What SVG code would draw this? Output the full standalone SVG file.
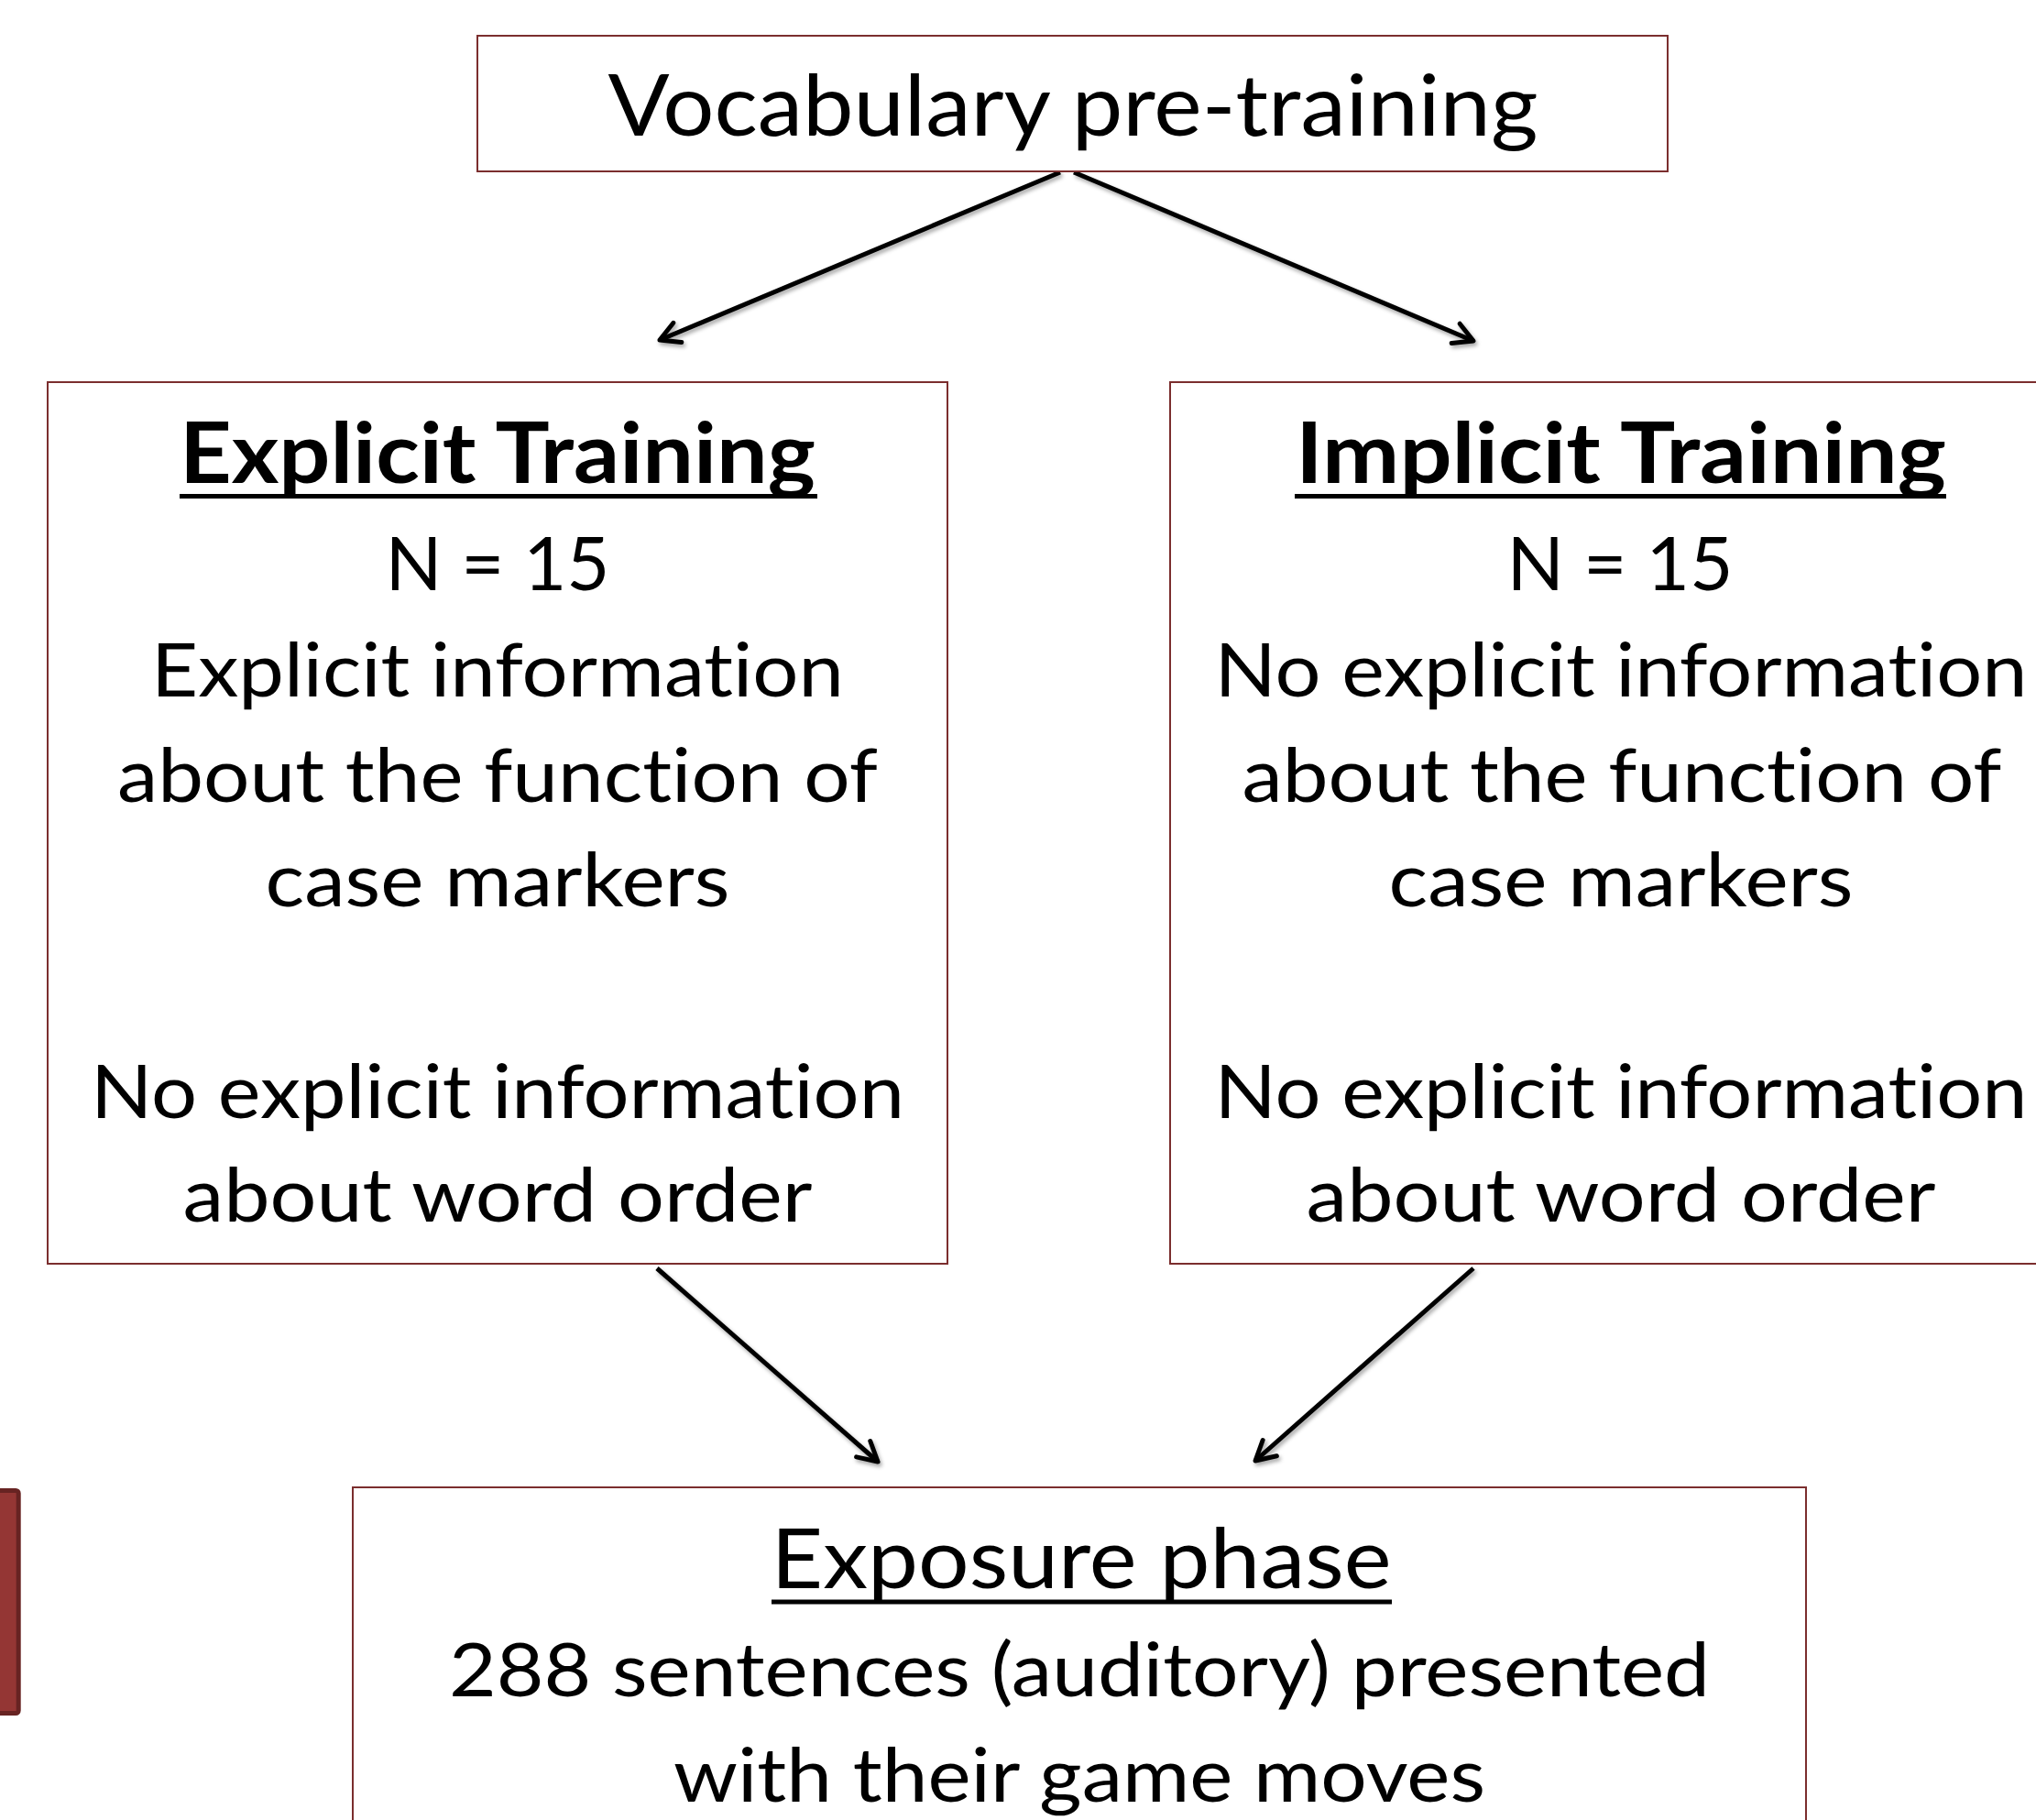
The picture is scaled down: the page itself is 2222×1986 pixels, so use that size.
<svg xmlns="http://www.w3.org/2000/svg" width="2222" height="1986" viewBox="0 0 2222 1986">
  <style>
    .box{fill:#ffffff;stroke:#7b2e2e;stroke-width:2}
    .t{font-family:Lato,"Open Sans","DejaVu Sans",sans-serif;fill:#000000;text-anchor:middle;font-variant-ligatures:none;font-feature-settings:"liga" 0,"dlig" 0}
    .body{font-size:82px}
    .title{font-size:91px}
    .b{font-weight:bold}
    .ul{stroke:#000000;stroke-width:5}
    .conn{stroke:#000000;stroke-width:5;fill:none;marker-end:url(#arr)}
    .tab{fill:#943634;stroke:#672322;stroke-width:5}
  </style>
  <defs>
    <marker id="arr" markerUnits="userSpaceOnUse" viewBox="-28 -18 32 36" refX="0" refY="0" markerWidth="32" markerHeight="36" orient="auto">
      <path d="M-21,-11.5 L0,0 L-21,11.5" fill="none" stroke="#000000" stroke-width="5" stroke-linejoin="round" stroke-linecap="round"/>
    </marker>
    <filter id="shadow" x="-20%" y="-20%" width="140%" height="140%">
      <feDropShadow dx="2" dy="3" stdDeviation="2" flood-color="#000000" flood-opacity="0.35"/>
    </filter>
  </defs>

  <rect class="tab" x="-10" y="1626.5" width="30.2" height="243" rx="3"/>

  <g id="connectors" filter="url(#shadow)">
    <line class="conn" x1="1157" y1="188" x2="720" y2="371"/>
    <line class="conn" x1="1172" y1="188" x2="1608" y2="372"/>
    <line class="conn" x1="717" y1="1384" x2="958" y2="1595"/>
    <line class="conn" x1="1608" y1="1384" x2="1370" y2="1594"/>
  </g>

  <g id="vocabulary">
    <rect class="box" x="521" y="39" width="1299" height="148"/>
    <text class="t" x="1171" y="148" font-size="93" textLength="1015" lengthAdjust="spacingAndGlyphs">Vocabulary pre-training</text>
  </g>

  <g id="explicit">
    <rect class="box" x="52" y="417" width="982" height="962"/>
    <text class="t title b" x="543" y="527" textLength="694" lengthAdjust="spacingAndGlyphs">Explicit Training</text>
    <line class="ul" x1="196" y1="541.5" x2="892" y2="541.5"/>
    <text class="t body" x="543" y="644" textLength="245" lengthAdjust="spacingAndGlyphs">N = 15</text>
    <text class="t body" x="543" y="760" textLength="756" lengthAdjust="spacingAndGlyphs">Explicit information</text>
    <text class="t body" x="543" y="875" textLength="830" lengthAdjust="spacingAndGlyphs">about the function of</text>
    <text class="t body" x="543" y="989" textLength="507" lengthAdjust="spacingAndGlyphs">case markers</text>
    <text class="t body" x="543" y="1220" textLength="888" lengthAdjust="spacingAndGlyphs">No explicit information</text>
    <text class="t body" x="543" y="1333" textLength="687" lengthAdjust="spacingAndGlyphs">about word order</text>
  </g>

  <g id="implicit">
    <rect class="box" x="1277" y="417" width="985" height="962"/>
    <text class="t title b" x="1769" y="527" textLength="710" lengthAdjust="spacingAndGlyphs">Implicit Training</text>
    <line class="ul" x1="1413" y1="541.5" x2="2124" y2="541.5"/>
    <text class="t body" x="1768" y="644" textLength="247" lengthAdjust="spacingAndGlyphs">N = 15</text>
    <text class="t body" x="1769" y="760" textLength="887" lengthAdjust="spacingAndGlyphs">No explicit information</text>
    <text class="t body" x="1770" y="875" textLength="829" lengthAdjust="spacingAndGlyphs">about the function of</text>
    <text class="t body" x="1769" y="989" textLength="507" lengthAdjust="spacingAndGlyphs">case markers</text>
    <text class="t body" x="1769" y="1220" textLength="887" lengthAdjust="spacingAndGlyphs">No explicit information</text>
    <text class="t body" x="1769" y="1333" textLength="687" lengthAdjust="spacingAndGlyphs">about word order</text>
  </g>

  <g id="exposure">
    <rect class="box" x="385" y="1623" width="1586" height="420"/>
    <text class="t title" x="1180" y="1733" textLength="677" lengthAdjust="spacingAndGlyphs">Exposure phase</text>
    <line class="ul" x1="842" y1="1748" x2="1519" y2="1748"/>
    <text class="t body" x="1178" y="1851" textLength="1376" lengthAdjust="spacingAndGlyphs">288 sentences (auditory) presented</text>
    <text class="t body" x="1178" y="1966" textLength="886" lengthAdjust="spacingAndGlyphs">with their game moves</text>
  </g>
</svg>
